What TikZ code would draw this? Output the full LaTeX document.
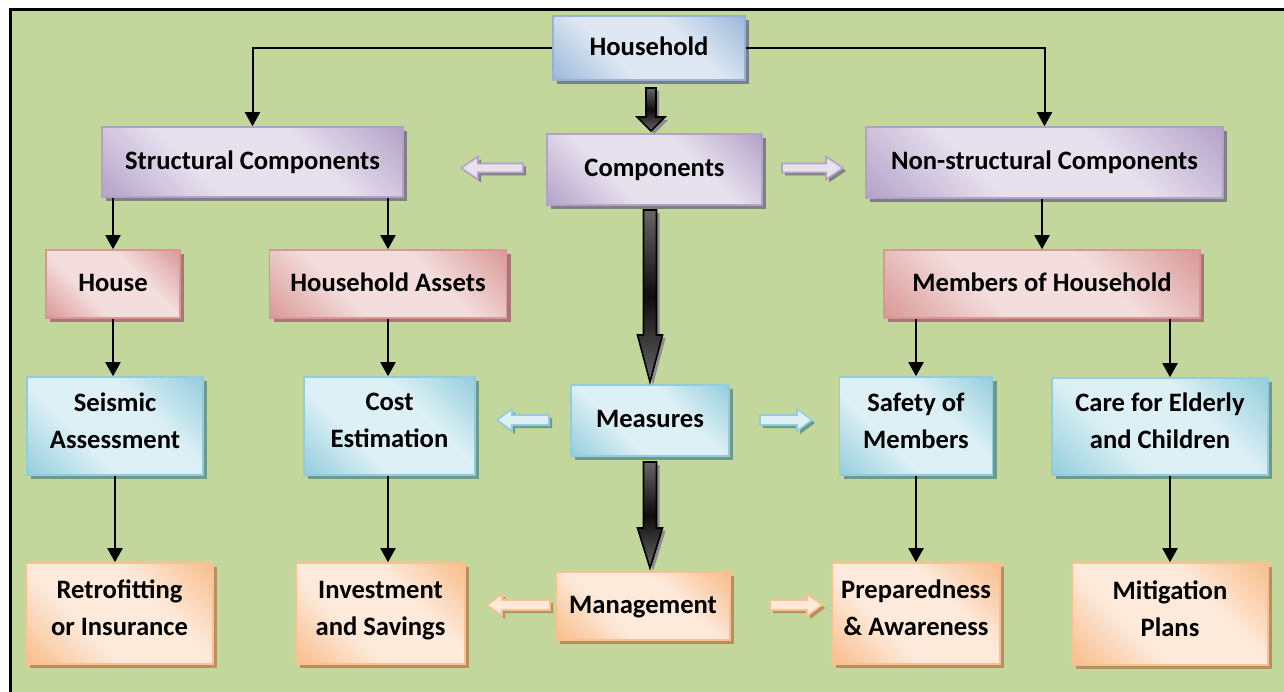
\documentclass[tikz,border=0pt]{standalone}
\usepackage{fontspec}
\setmainfont{Carlito}
\usetikzlibrary{arrows.meta,shadows,calc}

% box palettes: dark tint, light tint, border, shadow
\definecolor{bgGreen}{HTML}{C3D69B}
\definecolor{bD}{HTML}{9DB9DA}\definecolor{bL}{HTML}{DEE7F2}\definecolor{bB}{HTML}{95B3D7}\definecolor{bS}{HTML}{7B7F86}
\definecolor{pD}{HTML}{B4A3C9}\definecolor{pL}{HTML}{E7E1EE}\definecolor{pB}{HTML}{B3A2C7}\definecolor{pS}{HTML}{808080}
\definecolor{rD}{HTML}{DA9A98}\definecolor{rL}{HTML}{F3DEDD}\definecolor{rB}{HTML}{D99694}\definecolor{rS}{HTML}{A57878}
\definecolor{aD}{HTML}{95CEDE}\definecolor{aL}{HTML}{DDF0F5}\definecolor{aB}{HTML}{93CDDD}\definecolor{aS}{HTML}{6E9A88}
\definecolor{oD}{HTML}{F9BD8C}\definecolor{oL}{HTML}{FDEADB}\definecolor{oB}{HTML}{FAC090}\definecolor{oS}{HTML}{B39260}

% diagonal dark-light-dark fills
\pgfdeclarehorizontalshading{bShade}{100bp}{color(0bp)=(bD); color(15bp)=(bD); color(38bp)=(bL); color(62bp)=(bL); color(85bp)=(bD); color(100bp)=(bD)}
\pgfdeclarehorizontalshading{pShade}{100bp}{color(0bp)=(pD); color(15bp)=(pD); color(38bp)=(pL); color(62bp)=(pL); color(85bp)=(pD); color(100bp)=(pD)}
\pgfdeclarehorizontalshading{rShade}{100bp}{color(0bp)=(rD); color(15bp)=(rD); color(38bp)=(rL); color(62bp)=(rL); color(85bp)=(rD); color(100bp)=(rD)}
\pgfdeclarehorizontalshading{aShade}{100bp}{color(0bp)=(aD); color(15bp)=(aD); color(38bp)=(aL); color(62bp)=(aL); color(85bp)=(aD); color(100bp)=(aD)}
\pgfdeclarehorizontalshading{oShade}{100bp}{color(0bp)=(oD); color(15bp)=(oD); color(38bp)=(oL); color(62bp)=(oL); color(85bp)=(oD); color(100bp)=(oD)}

% down-pointing block arrow: style, x, y top, y head base, y tip, shaft half, head half
\newcommand\blkdown[7]{\path[#1] (#2-#6,#3) -- (#2+#6,#3) -- (#2+#6,#4) -- (#2+#7,#4) -- (#2,#5) -- (#2-#7,#4) -- (#2-#6,#4) -- cycle;}
% horizontal block arrow: style, y, x tail, x head base, x tip, shaft half, head half
\newcommand\blkhoriz[7]{\path[#1] (#3,#2-#6) -- (#4,#2-#6) -- (#4,#2-#7) -- (#5,#2) -- (#4,#2+#7) -- (#4,#2+#6) -- (#3,#2+#6) -- cycle;}

\begin{document}
\begin{tikzpicture}[x=1pt,y=-1pt,
  box/.style={rectangle, line width=1.6pt, align=center, inner sep=0pt,
    font=\fontsize{26.6}{37}\selectfont\bfseries, shade, shading angle=45,
    execute at begin node=\strut, execute at end node=\strut},
  bluebox/.style={box, shading=bShade, draw=bB, drop shadow={shadow xshift=4pt, shadow yshift=-4pt, opacity=1, fill=bS}},
  purplebox/.style={box, shading=pShade, draw=pB, drop shadow={shadow xshift=4pt, shadow yshift=-4pt, opacity=1, fill=pS}},
  redbox/.style={box, shading=rShade, draw=rB, drop shadow={shadow xshift=4pt, shadow yshift=-4pt, opacity=1, fill=rS}},
  aquabox/.style={box, shading=aShade, draw=aB, drop shadow={shadow xshift=4pt, shadow yshift=-4pt, opacity=1, fill=aS}},
  orangebox/.style={box, shading=oShade, draw=oB, drop shadow={shadow xshift=4pt, shadow yshift=-4pt, opacity=1, fill=oS}},
  conn/.style={line width=2pt, -{Triangle[length=14pt,width=15pt]}},
  darkblk/.style={draw=black, line width=1.6pt, top color=black!60, bottom color=black!60, middle color=black!95,
    drop shadow={shadow xshift=3pt, shadow yshift=-3pt, opacity=1, fill=black!45}},
  purpleblk/.style={draw=pB, line width=1.6pt, fill=pL, drop shadow={shadow xshift=3pt, shadow yshift=-3pt, opacity=1, fill=pS}},
  aquablk/.style={draw=aB, line width=1.6pt, fill=aL, drop shadow={shadow xshift=3pt, shadow yshift=-3pt, opacity=1, fill=aS}},
  orangeblk/.style={draw=oB, line width=1.6pt, fill=oL, drop shadow={shadow xshift=3pt, shadow yshift=-3pt, opacity=1, fill=oS}}]

\useasboundingbox (0,0) rectangle (1284,692);
\fill[white] (0,0) rectangle (1284,692);
\fill[bgGreen] (10,10) rectangle (1284,692);
\draw[line width=3pt] (1284,10) -- (10,10) -- (10,692);

% top level
\node[bluebox, minimum width=192pt, minimum height=64pt] (hh) at (649,48) {Household};
\node[purplebox, minimum width=215pt, minimum height=71pt] (cp) at (654.5,169.5) {Components};
\node[purplebox, minimum width=301pt, minimum height=70pt] (sc) at (252.5,162) {Structural Components};
\node[purplebox, minimum width=357pt, minimum height=71pt] (ns) at (1044.5,162.5) {Non-structural Components};

% second level
\node[redbox, minimum width=134pt, minimum height=68pt] (hs) at (113,284) {House};
\node[redbox, minimum width=237pt, minimum height=68pt] (ha) at (388,284) {Household Assets};
\node[redbox, minimum width=316pt, minimum height=68pt] (mh) at (1042,284) {Members of Household};

% measures
\node[aquabox, minimum width=176pt, minimum height=98pt] (sa) at (115,426) {Seismic\\Assessment};
\node[aquabox, minimum width=171pt, minimum height=98pt] (ce) at (389.5,426) {Cost\\Estimation};
\node[aquabox, minimum width=158pt, minimum height=71pt] (ms) at (650,420.5) {Measures};
\node[aquabox, minimum width=153pt, minimum height=98pt] (sm) at (916,426) {Safety of\\Members};
\node[aquabox, minimum width=216pt, minimum height=97pt] (cc) at (1160,426.5) {Care for Elderly\\and Children};

% management
\node[orangebox, minimum width=187pt, minimum height=101pt] (rf) at (119.5,613.5) {Retrofitting\\or Insurance};
\node[orangebox, minimum width=169pt, minimum height=101pt] (is) at (380.5,613.5) {Investment\\and Savings};
\node[orangebox, minimum width=174pt, minimum height=68pt] (mg) at (643,606) {Management};
\node[orangebox, minimum width=168pt, minimum height=101pt] (pa) at (916,613.5) {Preparedness\\\& Awareness};
\node[orangebox, minimum width=196pt, minimum height=102pt] (mp) at (1170,614) {Mitigation\\Plans};

% thin connectors
\draw[conn] (hh.west) -| (sc.north);
\draw[conn] (hh.east) -| (ns.north);
\draw[conn] (sc.south -| hs.north) -- (hs.north);
\draw[conn] (sc.south -| ha.north) -- (ha.north);
\draw[conn] (ns.south -| mh.north) -- (mh.north);
\draw[conn] (hs.south) -- (hs.south |- sa.north);
\draw[conn] (ha.south) -- (ha.south |- ce.north);
\draw[conn] (mh.south -| sm.north) -- (sm.north);
\draw[conn] (mh.south -| mp.north) -- (cc.north -| mp.north);
\draw[conn] (sa.south) -- (sa.south |- rf.north);
\draw[conn] (ha.south |- ce.south) -- (ha.south |- is.north);
\draw[conn] (sm.south) -- (sm.south |- pa.north);
\draw[conn] (cc.south -| mp.north) -- (mp.north);

% central block arrows
\blkdown{darkblk}{651}{88}{117}{131}{5}{14}
\blkdown{darkblk}{650}{210}{335}{382}{6.5}{12.5}
\blkdown{darkblk}{650}{462}{528}{568}{6.5}{12.5}

% side block arrows
\blkhoriz{purpleblk}{168}{523}{478}{461}{4.5}{11.5}
\blkhoriz{purpleblk}{168}{782}{826}{843}{4.5}{11.5}
\blkhoriz{aquablk}{420}{549}{512}{497}{5}{11}
\blkhoriz{aquablk}{420}{760}{797}{812}{5}{11}
\blkhoriz{orangeblk}{605}{550}{502}{487}{5}{11}
\blkhoriz{orangeblk}{605}{770}{807}{822}{5}{11}

\end{tikzpicture}
\end{document}
